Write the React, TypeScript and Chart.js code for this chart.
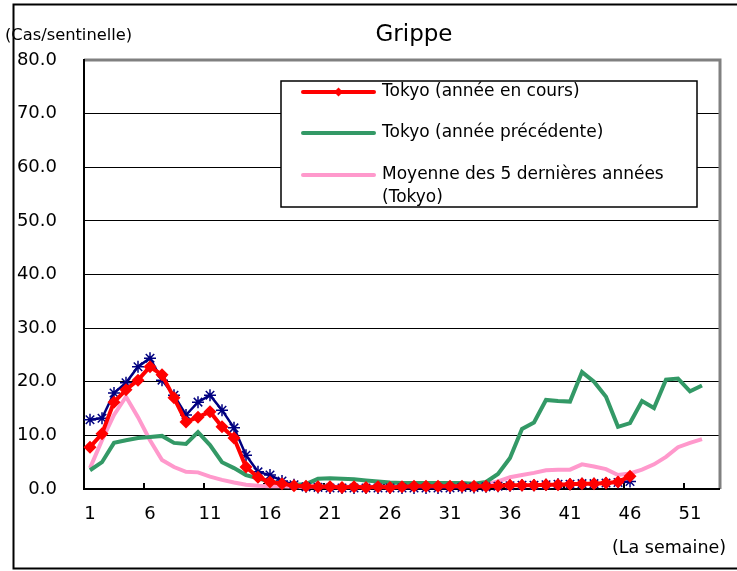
import { useEffect, useRef } from 'react';
import { Chart, registerables } from 'chart.js';

Chart.register(...registerables);

const weeks: string[] = Array.from({ length: 53 }, (_, i) => String(i + 1));
const yTicks: number[] = [0, 10, 20, 30, 40, 50, 60, 70, 80];

const currentYear: number[] = [
  7.8, 10.3, 16.2, 18.5, 20.3, 22.8, 21.3, 17.0, 12.5, 13.4, 14.4, 11.6, 9.5, 4.1, 2.2, 1.3,
  1.0, 0.6, 0.5, 0.4, 0.4, 0.3, 0.4, 0.3, 0.4, 0.3, 0.4, 0.5, 0.5, 0.5, 0.5, 0.5, 0.5, 0.5,
  0.6, 0.7, 0.7, 0.7, 0.8, 0.8, 0.9, 1.0, 1.0, 1.1, 1.3, 2.4,
];

const national: number[] = [
  12.9, 13.2, 17.9, 19.8, 22.8, 24.4, 20.3, 17.5, 13.8, 16.2, 17.5, 14.7, 11.4, 6.3, 3.2, 2.6,
  1.5, 0.8, 0.4, 0.3, 0.2, 0.2, 0.2, 0.2, 0.2, 0.2, 0.2, 0.2, 0.2, 0.2, 0.2, 0.3, 0.3, 0.4,
  0.5, 0.6, 0.7, 0.7, 0.8, 0.9, 0.9, 1.0, 1.0, 1.1, 1.2, 1.4,
];

const previousYear: number[] = [
  3.5, 5.0, 8.6, 9.1, 9.5, 9.7, 9.9, 8.6, 8.4, 10.6, 8.2, 5.0, 3.9, 2.6, 2.0, 1.4, 1.0, 0.8,
  0.9, 1.9, 2.0, 1.9, 1.8, 1.6, 1.4, 1.2, 1.1, 1.1, 1.1, 1.1, 1.1, 1.1, 1.0, 1.3, 2.8, 5.8,
  11.2, 12.4, 16.6, 16.4, 16.3, 21.8, 20.0, 17.2, 11.6, 12.3, 16.4, 15.1, 20.4, 20.6, 18.2, 19.3,
];

const fiveYearAvg: number[] = [
  3.9, 9.1, 13.8, 17.2, 13.4, 9.1, 5.4, 4.1, 3.2, 3.1, 2.3, 1.7, 1.2, 0.8, 0.6, 0.5, 0.5, 0.4,
  0.4, 0.4, 0.4, 0.4, 0.4, 0.4, 0.4, 0.4, 0.4, 0.4, 0.5, 0.5, 0.5, 0.6, 0.7, 0.9, 1.4, 2.2,
  2.6, 3.0, 3.5, 3.6, 3.6, 4.6, 4.2, 3.7, 2.6, 2.9, 3.6, 4.6, 6.0, 7.8, 8.6, 9.3,
];

const legendLabels: string[][] = [
  ['Tokyo (année en cours)'],
  ['Tokyo (année précédente)'],
  ['Moyenne des 5 dernières années', '(Tokyo)'],
];

const chartTitle = 'Grippe';
const yTitle = '(Cas/sentinelle)';
const xTitle = '(La semaine)';

const FONT = "'DejaVu Sans', sans-serif";
const RED = '#FF0000';
const GREEN = '#339966';
const PINK = '#FF99CC';
const NAVY = '#000080';

const decorPlugin = {
  id: 'decor',
  beforeDatasetsDraw(chart: any) {
    const { ctx, chartArea: a } = chart;
    ctx.save();
    ctx.strokeStyle = '#808080';
    ctx.lineWidth = 3;
    ctx.beginPath();
    ctx.moveTo(a.left, a.top);
    ctx.lineTo(a.right, a.top);
    ctx.lineTo(a.right, a.bottom);
    ctx.stroke();
    ctx.strokeStyle = '#000';
    ctx.lineWidth = 2;
    ctx.beginPath();
    ctx.moveTo(a.left, a.top - 1);
    ctx.lineTo(a.left, a.bottom);
    ctx.lineTo(a.right, a.bottom);
    ctx.stroke();
    const n = weeks.length;
    const w = (a.right - a.left) / n;
    ctx.lineWidth = 2;
    ctx.beginPath();
    for (let i = 5; i < n; i += 5) {
      const x = Math.round(a.left + i * w);
      ctx.moveTo(x, a.bottom);
      ctx.lineTo(x, a.bottom - 6);
    }
    ctx.stroke();
    ctx.restore();
  },
  afterDraw(chart: any) {
    const { ctx } = chart;
    ctx.save();
    const bx = 281, by = 81, bw = 416, bh = 126;
    ctx.fillStyle = '#fff';
    ctx.fillRect(bx, by, bw, bh);
    ctx.strokeStyle = '#000';
    ctx.lineWidth = 1.5;
    ctx.strokeRect(bx, by, bw, bh);
    const rows = [92, 133, 175];
    const colors = [RED, GREEN, PINK];
    ctx.font = `17px ${FONT}`;
    ctx.textBaseline = 'middle';
    ctx.textAlign = 'left';
    rows.forEach((ry, i) => {
      ctx.strokeStyle = colors[i];
      ctx.lineWidth = 4;
      ctx.lineCap = 'round';
      ctx.beginPath();
      ctx.moveTo(303, ry);
      ctx.lineTo(374, ry);
      ctx.stroke();
      if (i === 0) {
        ctx.fillStyle = RED;
        ctx.beginPath();
        ctx.moveTo(338.5, ry - 4.5);
        ctx.lineTo(343, ry);
        ctx.lineTo(338.5, ry + 4.5);
        ctx.lineTo(334, ry);
        ctx.closePath();
        ctx.fill();
      }
      ctx.fillStyle = '#000';
      legendLabels[i].forEach((t, j) => ctx.fillText(t, 382, ry + j * 23));
    });
    ctx.fillStyle = '#000';
    ctx.font = `23px ${FONT}`;
    ctx.textAlign = 'center';
    ctx.textBaseline = 'alphabetic';
    ctx.fillText(chartTitle, 414, 41);
    ctx.font = `16.3px ${FONT}`;
    ctx.textAlign = 'left';
    ctx.textBaseline = 'middle';
    ctx.fillText(yTitle, 5, 36);
    ctx.font = `17.5px ${FONT}`;
    ctx.fillText(xTitle, 612, 548);
    ctx.strokeStyle = '#000';
    ctx.lineWidth = 2;
    ctx.beginPath();
    ctx.moveTo(737, 4.5);
    ctx.lineTo(13.5, 4.5);
    ctx.lineTo(13.5, 568.5);
    ctx.lineTo(737, 568.5);
    ctx.stroke();
    ctx.restore();
  },
};

export default function App() {
  const ref = useRef<HTMLCanvasElement | null>(null);
  useEffect(() => {
    if (!ref.current) return;
    const chart = new Chart(ref.current, {
      type: 'line',
      data: {
        labels: weeks,
        datasets: [
          {
            label: 'Tokyo (année en cours)',
            data: currentYear,
            borderColor: RED,
            backgroundColor: RED,
            borderWidth: 4,
            pointStyle: 'rectRot',
            pointRadius: 6.5,
            pointBorderWidth: 0,
            pointBackgroundColor: RED,
            tension: 0,
            clip: false,
          },
          {
            label: 'National',
            data: national,
            borderColor: NAVY,
            backgroundColor: NAVY,
            borderWidth: 2.5,
            pointStyle: 'star',
            pointRadius: 6,
            pointBorderWidth: 1.5,
            pointBorderColor: NAVY,
            tension: 0,
            clip: false,
          },
          {
            label: 'Tokyo (année précédente)',
            data: previousYear,
            borderColor: GREEN,
            backgroundColor: GREEN,
            borderWidth: 4,
            pointRadius: 0,
            tension: 0,
            clip: false,
          },
          {
            label: 'Moyenne des 5 dernières années (Tokyo)',
            data: fiveYearAvg,
            borderColor: PINK,
            backgroundColor: PINK,
            borderWidth: 4,
            pointRadius: 0,
            tension: 0,
            clip: false,
          },
        ],
      },
      options: {
        responsive: false,
        animation: false,
        events: [],
        layout: { padding: { top: 60, right: 17, left: 0, bottom: 0 } },
        plugins: {
          legend: { display: false },
          tooltip: { enabled: false },
          title: { display: false },
        },
        scales: {
          x: {
            type: 'category',
            offset: true,
            grid: { display: false },
            border: { display: false },
            ticks: {
              autoSkip: false,
              maxRotation: 0,
              minRotation: 0,
              padding: 7,
              color: '#000',
              font: { family: FONT, size: 18 },
              callback: (_v: any, i: number) => (i % 5 === 0 ? weeks[i] : null),
            },
            afterFit: (s: any) => {
              s.height = 82;
            },
          },
          y: {
            min: 0,
            max: 80,
            grid: { color: '#000', lineWidth: 1, drawTicks: false },
            border: { display: false },
            afterBuildTicks: (s: any) => {
              s.ticks = yTicks.map((v) => ({ value: v }));
            },
            ticks: {
              padding: 27,
              color: '#000',
              font: { family: FONT, size: 18 },
              callback: (v: any) => Number(v).toFixed(1),
            },
            afterFit: (s: any) => {
              s.width = 84;
            },
          },
        },
      },
      plugins: [decorPlugin],
    });
    return () => chart.destroy();
  }, []);
  return (
    <div style={{ position: 'fixed', left: 0, top: 0, width: 737, height: 571, background: '#fff' }}>
      <canvas ref={ref} width={737} height={571} style={{ display: 'block' }} />
    </div>
  );
}
